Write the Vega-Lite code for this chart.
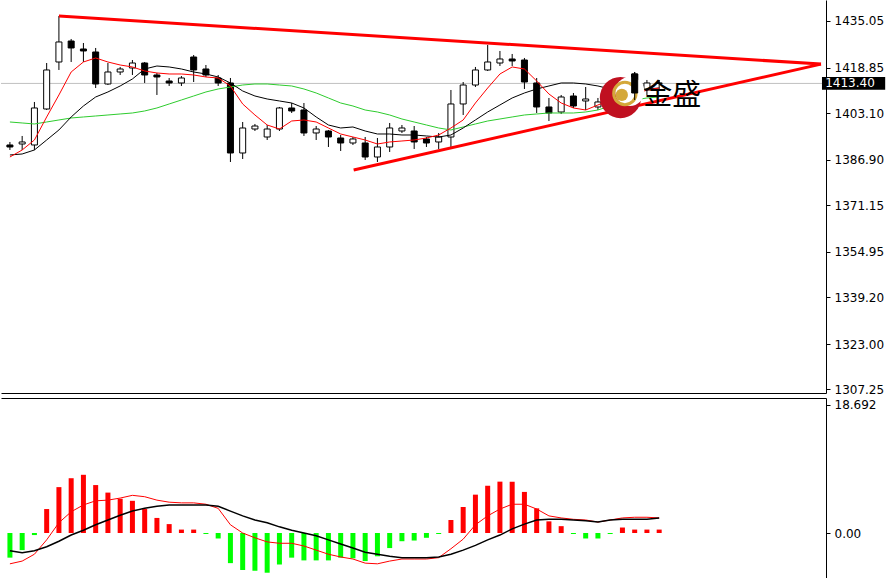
{
"$schema": "https://vega.github.io/schema/vega-lite/v6.json",
"padding": 0,
"background": "white",
"spacing": 2,
"config": {"view": {"stroke": null}, "axis": {"labelFont": "DejaVu Sans", "labelFontSize": 12, "labelColor": "#000", "domainColor": "#000", "tickColor": "#000", "grid": false, "title": null}},
"datasets": {
"bars": [
{"i":0,"o":1392.05,"h":1393.09,"l":1390.31,"c":1391.35,"r":1387.88,"k":1388.58,"g":1400.02,"hist":-3.6,"m":-4.5,"s":-2.6},
{"i":1,"o":1392.39,"h":1395.17,"l":1390.31,"c":1393.09,"r":1390.31,"k":1388.92,"g":1399.68,"hist":-2.5,"m":-4.1,"s":-2.9},
{"i":2,"o":1392.05,"h":1406.96,"l":1390.31,"c":1404.88,"r":1393.78,"k":1390.31,"g":1399.33,"hist":-0.3,"m":-3.1,"s":-2.6},
{"i":3,"o":1404.53,"h":1420.48,"l":1404.18,"c":1418.06,"r":1401.76,"k":1393.78,"g":1400.02,"hist":3.5,"m":-1.0,"s":-2.0},
{"i":4,"o":1420.83,"h":1436.78,"l":1418.06,"c":1427.77,"r":1409.39,"k":1397.25,"g":1400.72,"hist":6.7,"m":1.5,"s":-1.2},
{"i":5,"o":1428.11,"h":1428.81,"l":1420.83,"c":1425.69,"r":1417.36,"k":1401.76,"g":1401.41,"hist":8.0,"m":3.1,"s":-0.3},
{"i":6,"o":1425.34,"h":1427.42,"l":1420.83,"c":1424.65,"r":1420.83,"k":1405.57,"g":1401.76,"hist":8.5,"m":4.1,"s":0.4},
{"i":7,"o":1424.30,"h":1425.69,"l":1411.81,"c":1413.20,"r":1422.22,"k":1408.69,"g":1402.10,"hist":7.0,"m":4.7,"s":1.2},
{"i":8,"o":1413.20,"h":1420.48,"l":1412.85,"c":1417.36,"r":1420.83,"k":1410.43,"g":1402.45,"hist":5.9,"m":4.8,"s":1.9},
{"i":9,"o":1417.36,"h":1419.10,"l":1416.32,"c":1418.40,"r":1419.79,"k":1412.51,"g":1402.80,"hist":5.0,"m":5.1,"s":2.6},
{"i":10,"o":1418.75,"h":1421.52,"l":1416.32,"c":1420.48,"r":1419.10,"k":1414.94,"g":1403.14,"hist":4.7,"m":5.5,"s":3.2},
{"i":11,"o":1420.48,"h":1420.83,"l":1413.55,"c":1416.32,"r":1417.71,"k":1418.40,"g":1403.84,"hist":3.5,"m":5.3,"s":3.6},
{"i":12,"o":1416.32,"h":1417.02,"l":1409.39,"c":1415.63,"r":1417.02,"k":1419.44,"g":1404.88,"hist":2.2,"m":4.8,"s":3.9},
{"i":13,"o":1414.24,"h":1415.28,"l":1412.51,"c":1413.55,"r":1416.67,"k":1419.10,"g":1406.27,"hist":1.3,"m":4.5,"s":4.1},
{"i":14,"o":1413.55,"h":1415.97,"l":1412.51,"c":1415.28,"r":1416.67,"k":1418.40,"g":1407.65,"hist":0.5,"m":4.4,"s":4.1},
{"i":15,"o":1422.56,"h":1423.26,"l":1413.89,"c":1418.06,"r":1416.32,"k":1417.36,"g":1409.04,"hist":0.5,"m":4.4,"s":4.1},
{"i":16,"o":1418.40,"h":1419.79,"l":1415.63,"c":1416.32,"r":1415.63,"k":1416.67,"g":1410.43,"hist":-0.15,"m":4.2,"s":4.1},
{"i":17,"o":1415.28,"h":1416.32,"l":1412.51,"c":1413.55,"r":1415.28,"k":1415.63,"g":1411.47,"hist":-0.8,"m":3.6,"s":3.9},
{"i":18,"o":1413.55,"h":1415.28,"l":1386.15,"c":1389.27,"r":1412.51,"k":1413.55,"g":1412.16,"hist":-4.4,"m":1.2,"s":3.2},
{"i":19,"o":1389.27,"h":1400.02,"l":1387.19,"c":1397.94,"r":1406.27,"k":1410.77,"g":1412.85,"hist":-5.4,"m":0.0,"s":2.5},
{"i":20,"o":1397.59,"h":1399.33,"l":1396.90,"c":1398.63,"r":1402.45,"k":1409.04,"g":1413.20,"hist":-5.5,"m":-0.7,"s":1.9},
{"i":21,"o":1394.82,"h":1398.98,"l":1393.78,"c":1397.59,"r":1398.98,"k":1408.00,"g":1413.20,"hist":-5.8,"m":-1.3,"s":1.5},
{"i":22,"o":1397.59,"h":1405.23,"l":1396.90,"c":1404.88,"r":1397.59,"k":1407.31,"g":1412.85,"hist":-4.6,"m":-1.5,"s":0.9},
{"i":23,"o":1404.88,"h":1406.61,"l":1403.14,"c":1403.84,"r":1400.37,"k":1406.61,"g":1412.51,"hist":-3.6,"m":-1.5,"s":0.4},
{"i":24,"o":1404.18,"h":1406.61,"l":1395.17,"c":1396.21,"r":1400.72,"k":1404.88,"g":1411.47,"hist":-4.0,"m":-1.9,"s":0.0},
{"i":25,"o":1396.21,"h":1398.63,"l":1393.78,"c":1397.59,"r":1400.02,"k":1401.76,"g":1410.08,"hist":-4.0,"m":-2.5,"s":-0.4},
{"i":26,"o":1396.90,"h":1397.25,"l":1391.35,"c":1394.82,"r":1397.94,"k":1398.98,"g":1408.35,"hist":-4.0,"m":-3.1,"s":-1.0},
{"i":27,"o":1394.47,"h":1395.51,"l":1389.97,"c":1392.74,"r":1395.86,"k":1397.94,"g":1406.61,"hist":-3.6,"m":-3.5,"s":-1.6},
{"i":28,"o":1392.74,"h":1394.82,"l":1392.05,"c":1394.13,"r":1394.82,"k":1398.29,"g":1405.57,"hist":-3.7,"m":-3.8,"s":-2.2},
{"i":29,"o":1392.74,"h":1394.82,"l":1386.84,"c":1387.88,"r":1393.78,"k":1396.90,"g":1404.18,"hist":-4.1,"m":-4.4,"s":-2.8},
{"i":30,"o":1387.88,"h":1394.47,"l":1386.15,"c":1391.35,"r":1392.39,"k":1395.86,"g":1403.49,"hist":-3.4,"m":-4.5,"s":-3.1},
{"i":31,"o":1391.35,"h":1399.68,"l":1389.62,"c":1397.94,"r":1393.09,"k":1395.86,"g":1402.45,"hist":-2.2,"m":-4.1,"s":-3.4},
{"i":32,"o":1396.90,"h":1398.98,"l":1396.21,"c":1397.94,"r":1393.43,"k":1395.51,"g":1401.06,"hist":-1.2,"m":-3.8,"s":-3.6},
{"i":33,"o":1396.90,"h":1398.63,"l":1390.66,"c":1393.09,"r":1393.78,"k":1395.51,"g":1400.02,"hist":-1.1,"m":-3.8,"s":-3.6},
{"i":34,"o":1394.13,"h":1394.82,"l":1391.35,"c":1392.74,"r":1394.47,"k":1395.17,"g":1398.98,"hist":-0.7,"m":-3.8,"s":-3.6},
{"i":35,"o":1393.09,"h":1396.21,"l":1390.66,"c":1394.82,"r":1395.51,"k":1394.82,"g":1397.94,"hist":-0.15,"m":-3.6,"s":-3.5},
{"i":36,"o":1394.82,"h":1411.12,"l":1391.35,"c":1406.27,"r":1397.94,"k":1395.51,"g":1397.25,"hist":1.9,"m":-2.3,"s":-3.1},
{"i":37,"o":1406.27,"h":1413.89,"l":1402.45,"c":1412.85,"r":1400.72,"k":1397.94,"g":1398.29,"hist":3.8,"m":-0.9,"s":-2.5},
{"i":38,"o":1412.85,"h":1419.10,"l":1412.16,"c":1418.06,"r":1406.61,"k":1400.72,"g":1399.33,"hist":5.6,"m":1.2,"s":-1.8},
{"i":39,"o":1418.06,"h":1426.73,"l":1417.71,"c":1420.83,"r":1411.81,"k":1403.49,"g":1400.37,"hist":6.9,"m":2.5,"s":-1.0},
{"i":40,"o":1420.48,"h":1424.65,"l":1419.44,"c":1421.87,"r":1416.67,"k":1405.92,"g":1401.06,"hist":7.5,"m":3.5,"s":-0.3},
{"i":41,"o":1421.87,"h":1423.61,"l":1419.44,"c":1421.18,"r":1419.10,"k":1408.35,"g":1401.76,"hist":7.5,"m":4.2,"s":0.6},
{"i":42,"o":1421.52,"h":1422.22,"l":1411.47,"c":1413.89,"r":1418.40,"k":1410.08,"g":1402.45,"hist":6.0,"m":4.2,"s":1.3},
{"i":43,"o":1413.55,"h":1415.28,"l":1403.14,"c":1405.23,"r":1414.24,"k":1411.47,"g":1402.80,"hist":3.6,"m":3.5,"s":1.9},
{"i":44,"o":1405.23,"h":1408.35,"l":1400.37,"c":1403.14,"r":1409.73,"k":1412.51,"g":1403.14,"hist":1.7,"m":2.5,"s":2.0},
{"i":45,"o":1403.49,"h":1409.39,"l":1402.80,"c":1408.69,"r":1406.61,"k":1413.55,"g":1403.14,"hist":1.0,"m":2.2,"s":2.0},
{"i":46,"o":1409.04,"h":1410.08,"l":1404.88,"c":1405.57,"r":1404.88,"k":1413.55,"g":1403.14,"hist":-0.15,"m":2.0,"s":1.9},
{"i":47,"o":1407.31,"h":1412.16,"l":1404.18,"c":1408.00,"r":1404.18,"k":1413.20,"g":1403.49,"hist":-0.8,"m":1.9,"s":1.8},
{"i":48,"o":1405.23,"h":1408.35,"l":1404.18,"c":1406.96,"r":1405.92,"k":1412.51,"g":1404.18,"hist":-0.8,"m":1.6,"s":1.6},
{"i":49,"o":1407.65,"h":1412.16,"l":1406.61,"c":1411.12,"r":1407.65,"k":1411.47,"g":1405.57,"hist":-0.15,"m":1.9,"s":1.9},
{"i":50,"o":1409.39,"h":1412.85,"l":1407.65,"c":1411.81,"r":1408.35,"k":1411.12,"g":1406.61,"hist":0.8,"m":2.2,"s":2.0},
{"i":51,"o":1416.67,"h":1417.36,"l":1407.65,"c":1410.08,"r":1409.39,"k":1411.12,"g":1407.65,"hist":0.5,"m":2.3,"s":2.0},
{"i":52,"o":1411.12,"h":1414.59,"l":1409.39,"c":1413.55,"r":1411.12,"k":1411.47,"g":1408.35,"hist":0.5,"m":2.3,"s":2.0},
{"i":53,"o":1413.55,"h":1414.59,"l":1411.47,"c":1413.40,"r":1411.81,"k":1411.81,"g":1408.69,"hist":0.5,"m":2.2,"s":2.2}
],
"trend": [
{"t":"up","i":4,"p":1436.78},{"t":"up","i":66.21,"p":1420.1},
{"t":"dn","i":28.06,"p":1383.38},{"t":"dn","i":66.21,"p":1420.1}
]
},
"vconcat": [
{
"width": 825, "height": 393,
"layer": [
{"data": {"values": [{}]}, "mark": {"type": "rule", "color": "#c0c0c0", "strokeWidth": 1},
 "encoding": {"y": {"datum": 1413.4, "type": "quantitative", "scale": {"domain": [1306.03, 1442.33], "nice": false, "zero": false}, "axis": {"orient": "right", "values": [1307.25,1323,1339.2,1354.95,1371.15,1386.9,1403.1,1418.85,1435.05], "format": ".2f", "tickSize": 4, "labelPadding": 4}}}},
{"data": {"name": "bars"}, "mark": {"type": "rule", "color": "#000", "strokeWidth": 1},
 "encoding": {
  "x": {"field": "i", "type": "quantitative", "scale": {"domain": [-0.32, 66.21], "nice": false, "zero": false}, "axis": {"labels": false, "ticks": false, "orient": "bottom"}},
  "y": {"field": "l", "type": "quantitative", "scale": {"domain": [1306.03, 1442.33], "nice": false, "zero": false}, "axis": {"orient": "right", "values": [1307.25,1323,1339.2,1354.95,1371.15,1386.9,1403.1,1418.85,1435.05], "format": ".2f", "tickSize": 4, "labelPadding": 4}},
  "y2": {"field": "h"}}},
{"data": {"name": "bars"}, "mark": {"type": "bar", "size": 6, "stroke": "#000", "strokeWidth": 1},
 "encoding": {
  "x": {"field": "i", "type": "quantitative", "scale": {"domain": [-0.32, 66.21], "nice": false, "zero": false}, "axis": {"labels": false, "ticks": false, "orient": "bottom"}},
  "y": {"field": "o", "type": "quantitative", "scale": {"domain": [1306.03, 1442.33], "nice": false, "zero": false}, "axis": {"orient": "right", "values": [1307.25,1323,1339.2,1354.95,1371.15,1386.9,1403.1,1418.85,1435.05], "format": ".2f", "tickSize": 4, "labelPadding": 4}},
  "y2": {"field": "c"},
  "fill": {"condition": {"test": "datum.c >= datum.o", "value": "#ffffff"}, "value": "#000000"}}},
{"data": {"name": "bars"}, "mark": {"type": "line", "color": "#2ecc2e", "strokeWidth": 1},
 "encoding": {
  "x": {"field": "i", "type": "quantitative", "scale": {"domain": [-0.32, 66.21], "nice": false, "zero": false}, "axis": {"labels": false, "ticks": false, "orient": "bottom"}},
  "y": {"field": "g", "type": "quantitative", "scale": {"domain": [1306.03, 1442.33], "nice": false, "zero": false}, "axis": {"orient": "right", "values": [1307.25,1323,1339.2,1354.95,1371.15,1386.9,1403.1,1418.85,1435.05], "format": ".2f", "tickSize": 4, "labelPadding": 4}}}},
{"data": {"name": "bars"}, "mark": {"type": "line", "color": "#000000", "strokeWidth": 1},
 "encoding": {
  "x": {"field": "i", "type": "quantitative", "scale": {"domain": [-0.32, 66.21], "nice": false, "zero": false}, "axis": {"labels": false, "ticks": false, "orient": "bottom"}},
  "y": {"field": "k", "type": "quantitative", "scale": {"domain": [1306.03, 1442.33], "nice": false, "zero": false}, "axis": {"orient": "right", "values": [1307.25,1323,1339.2,1354.95,1371.15,1386.9,1403.1,1418.85,1435.05], "format": ".2f", "tickSize": 4, "labelPadding": 4}}}},
{"data": {"name": "bars"}, "mark": {"type": "line", "color": "#ff0000", "strokeWidth": 1},
 "encoding": {
  "x": {"field": "i", "type": "quantitative", "scale": {"domain": [-0.32, 66.21], "nice": false, "zero": false}, "axis": {"labels": false, "ticks": false, "orient": "bottom"}},
  "y": {"field": "r", "type": "quantitative", "scale": {"domain": [1306.03, 1442.33], "nice": false, "zero": false}, "axis": {"orient": "right", "values": [1307.25,1323,1339.2,1354.95,1371.15,1386.9,1403.1,1418.85,1435.05], "format": ".2f", "tickSize": 4, "labelPadding": 4}}}},
{"data": {"name": "trend"}, "mark": {"type": "line", "color": "#ff0000", "strokeWidth": 3},
 "encoding": {
  "x": {"field": "i", "type": "quantitative", "scale": {"domain": [-0.32, 66.21], "nice": false, "zero": false}, "axis": {"labels": false, "ticks": false, "orient": "bottom"}},
  "y": {"field": "p", "type": "quantitative", "scale": {"domain": [1306.03, 1442.33], "nice": false, "zero": false}, "axis": {"orient": "right", "values": [1307.25,1323,1339.2,1354.95,1371.15,1386.9,1403.1,1418.85,1435.05], "format": ".2f", "tickSize": 4, "labelPadding": 4}},
  "detail": {"field": "t"}}},
{"data": {"values": [{}]}, "mark": {"type": "point", "shape": "circle", "filled": true, "color": "#c01020", "size": 1700, "opacity": 1},
 "encoding": {"x": {"datum": 49.84, "type": "quantitative"}, "y": {"datum": 1408.5, "type": "quantitative"}}},
{"data": {"values": [{}]}, "mark": {"type": "point", "shape": "circle", "filled": true, "color": "#ffffff", "size": 850, "opacity": 1},
 "encoding": {"x": {"datum": 50.6, "type": "quantitative"}, "y": {"datum": 1410.6, "type": "quantitative"}}},
{"data": {"values": [{}]}, "mark": {"type": "point", "shape": "circle", "filled": false, "color": "#d4a83a", "size": 500, "strokeWidth": 3, "opacity": 1},
 "encoding": {"x": {"datum": 50.2, "type": "quantitative"}, "y": {"datum": 1409.9, "type": "quantitative"}}},
{"data": {"values": [{}]}, "mark": {"type": "point", "shape": "circle", "filled": true, "color": "#d4a83a", "size": 150, "opacity": 1},
 "encoding": {"x": {"datum": 49.95, "type": "quantitative"}, "y": {"datum": 1409.4, "type": "quantitative"}}},
{"data": {"name": "bars"}, "transform": [{"filter": "datum.i == 51"}], "mark": {"type": "rule", "color": "#000", "strokeWidth": 1},
 "encoding": {"x": {"field": "i", "type": "quantitative"}, "y": {"field": "l", "type": "quantitative"}, "y2": {"field": "h"}}},
{"data": {"name": "bars"}, "transform": [{"filter": "datum.i == 51"}], "mark": {"type": "bar", "size": 6, "stroke": "#000", "strokeWidth": 1, "fill": "#000"},
 "encoding": {"x": {"field": "i", "type": "quantitative"}, "y": {"field": "o", "type": "quantitative"}, "y2": {"field": "c"}}},
{"data": {"values": [{}]}, "mark": {"type": "text", "text": "金盛", "font": "Noto Sans CJK SC", "fontSize": 29, "color": "#000", "align": "left", "baseline": "middle"},
 "encoding": {"x": {"datum": 51.69, "type": "quantitative"}, "y": {"datum": 1409.0, "type": "quantitative"}}},
{"data": {"values": [{}]}, "mark": {"type": "rect", "color": "#000"},
 "encoding": {"x": {"datum": 66.29, "type": "quantitative"}, "x2": {"datum": 71.45}, "y": {"datum": 1415.6, "type": "quantitative"}, "y2": {"datum": 1411.2}}},
{"data": {"values": [{}]}, "mark": {"type": "text", "text": "1413.40", "font": "DejaVu Sans", "fontSize": 12, "color": "#fff", "align": "left", "baseline": "middle"},
 "encoding": {"x": {"datum": 66.55, "type": "quantitative"}, "y": {"datum": 1413.4, "type": "quantitative"}}}
]
},
{
"width": 825, "height": 181,
"data": {"name": "bars"},
"layer": [
{"mark": {"type": "bar", "size": 5},
 "encoding": {
  "x": {"field": "i", "type": "quantitative", "scale": {"domain": [-0.32, 66.21], "nice": false, "zero": false}, "axis": {"labels": false, "ticks": false, "orient": "top"}},
  "y": {"field": "hist", "type": "quantitative", "scale": {"domain": [-6.717, 19.714], "nice": false, "zero": false}, "axis": {"orient": "right", "values": [0, 18.692], "labelExpr": "datum.value == 0 ? '0.00' : '18.692'", "tickSize": 4, "labelPadding": 4}},
  "y2": {"datum": 0},
  "color": {"condition": {"test": "datum.hist >= 0", "value": "#ff0000"}, "value": "#00ff00"}}},
{"mark": {"type": "line", "color": "#ff0000", "strokeWidth": 1},
 "encoding": {
  "x": {"field": "i", "type": "quantitative", "scale": {"domain": [-0.32, 66.21], "nice": false, "zero": false}, "axis": {"labels": false, "ticks": false, "orient": "top"}},
  "y": {"field": "m", "type": "quantitative", "scale": {"domain": [-6.717, 19.714], "nice": false, "zero": false}, "axis": {"orient": "right", "values": [0, 18.692], "labelExpr": "datum.value == 0 ? '0.00' : '18.692'", "tickSize": 4, "labelPadding": 4}}}},
{"mark": {"type": "line", "color": "#000000", "strokeWidth": 1.5},
 "encoding": {
  "x": {"field": "i", "type": "quantitative", "scale": {"domain": [-0.32, 66.21], "nice": false, "zero": false}, "axis": {"labels": false, "ticks": false, "orient": "top"}},
  "y": {"field": "s", "type": "quantitative", "scale": {"domain": [-6.717, 19.714], "nice": false, "zero": false}, "axis": {"orient": "right", "values": [0, 18.692], "labelExpr": "datum.value == 0 ? '0.00' : '18.692'", "tickSize": 4, "labelPadding": 4}}}}
]
}
]
}
